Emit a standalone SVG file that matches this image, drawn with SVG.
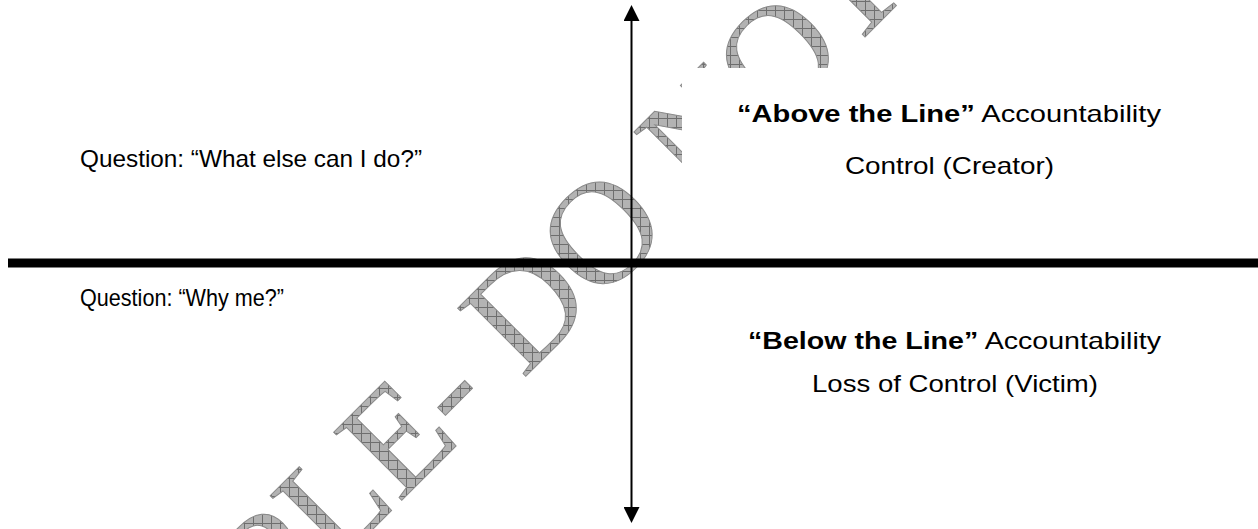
<svg xmlns="http://www.w3.org/2000/svg" width="1258" height="529" viewBox="0 0 1258 529">
  <defs>
    <pattern id="hatch" width="9" height="9" patternUnits="userSpaceOnUse" patternTransform="rotate(45)">
      <rect width="9" height="9" fill="#b3b3b3"/>
      <path d="M0 0.5H9M0.5 0V9" stroke="#6e6e6e" stroke-width="1"/>
    </pattern>
    <marker id="arrow" viewBox="0 0 16 16" refX="2" refY="8" markerWidth="16" markerHeight="16" markerUnits="userSpaceOnUse" orient="auto-start-reverse">
      <path d="M0 0L16 8L0 16Z" fill="#000"/>
    </marker>
    <style>
      .t { font-family: "Liberation Sans", Arial, sans-serif; font-size: 24px; fill: #000; }
      .b { font-weight: bold; }
      .wm { font-family: "Liberation Serif", "Times New Roman", serif; font-size: 147px; fill: url(#hatch); stroke: #8a8a8a; stroke-width: 1; }
      .mask { fill: #fff; }
    </style>
  </defs>
  <rect width="1258" height="529" fill="#fff"/>

  <g id="watermark">
    <text class="wm" transform="translate(523,379) rotate(-45)" x="-666" y="0">SAMPLE- DO NOT COPY</text>
  </g>

  <g id="text-backgrounds">
    <rect class="mask" x="682" y="68" width="540" height="140"/>
  </g>

  <g id="connectors">
    <line x1="631.5" y1="19" x2="631.5" y2="509" stroke="#000" stroke-width="2" marker-start="url(#arrow)" marker-end="url(#arrow)"/>
    <line x1="8" y1="263" x2="1258" y2="263" stroke="#000" stroke-width="9"/>
  </g>

  <g id="question-above">
    <text class="t" x="80" y="167" textLength="342" lengthAdjust="spacingAndGlyphs">Question: “What else can I do?”</text>
  </g>
  <g id="question-below">
    <text class="t" x="80" y="306" textLength="204" lengthAdjust="spacingAndGlyphs">Question: “Why me?”</text>
  </g>
  <g id="above-the-line">
    <text class="t" x="737" y="122" textLength="424" lengthAdjust="spacingAndGlyphs"><tspan class="b">“Above the Line”</tspan> Accountability</text>
    <text class="t" x="845" y="174" textLength="209" lengthAdjust="spacingAndGlyphs">Control (Creator)</text>
  </g>
  <g id="below-the-line">
    <text class="t" x="748" y="349" textLength="413" lengthAdjust="spacingAndGlyphs"><tspan class="b">“Below the Line”</tspan> Accountability</text>
    <text class="t" x="812" y="392" textLength="286" lengthAdjust="spacingAndGlyphs">Loss of Control (Victim)</text>
  </g>
</svg>
